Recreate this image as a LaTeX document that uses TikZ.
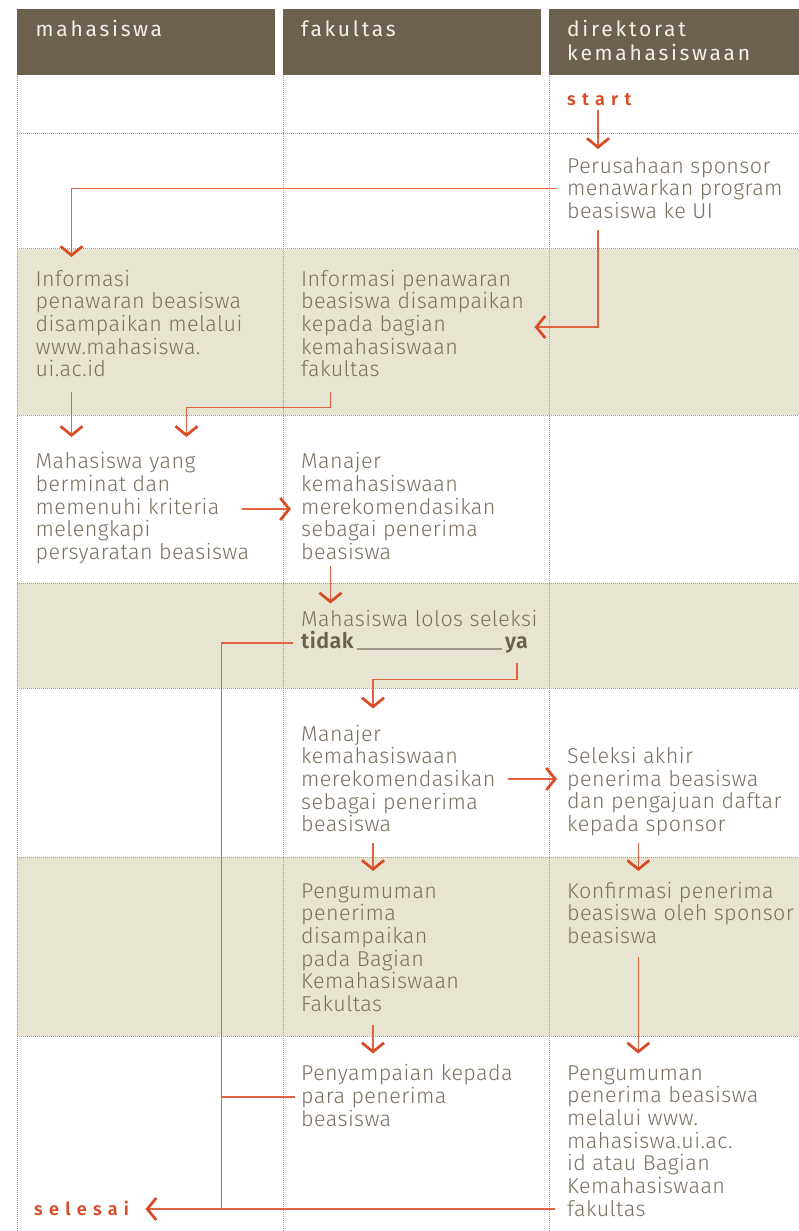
\documentclass[tikz,border=0pt]{standalone}
\usepackage{fontspec}
\setmainfont{Fira Sans}[UprightFont={* Light},BoldFont={* SemiBold},LetterSpace=2]
\newfontfamily\hdrfont{Fira Sans}[LetterSpace=13]
\newfontfamily\tagfont{Fira Sans}[UprightFont={* SemiBold},LetterSpace=35]
\usetikzlibrary{arrows.meta}
\definecolor{hdrfill}{HTML}{6C604F}
\definecolor{band}{HTML}{E8E4D2}
\definecolor{bodytxt}{HTML}{7A7061}
\definecolor{boldtxt}{HTML}{6B5F4E}
\definecolor{hdrtxt}{HTML}{F3F0EA}
\definecolor{lineor}{HTML}{DE6441}
\definecolor{tipor}{HTML}{D84B25}
\definecolor{dotc}{HTML}{9E9E9E}
\definecolor{rulec}{HTML}{A0978A}
\tikzset{
  txt/.style={anchor=base west, inner sep=0pt, align=left, text=bodytxt,
    font=\fontsize{21.5}{22.7}\selectfont},
  hdrtext/.style={anchor=base west, inner sep=0pt, align=left, text=hdrtxt,
    font=\hdrfont\fontsize{21}{23.3}\selectfont},
  tagtext/.style={anchor=base west, inner sep=0pt, text=tipor,
    font=\tagfont\fontsize{18}{20}\selectfont},
  boldtext/.style={inner sep=0pt, text=boldtxt,
    font=\bfseries\fontsize{21.5}{22.7}\selectfont},
  flow/.style={draw=lineor, line width=1.3pt,
    -{Straight Barb[length=9pt,width=22pt,line width=2.7pt,color=tipor]}},
  plain/.style={draw=lineor, line width=1.3pt},
  dotline/.style={draw=dotc, line width=0.7pt, dash pattern=on 0.9pt off 1.1pt},
}
\begin{document}
\begin{tikzpicture}[x=1pt,y=-1pt]
\useasboundingbox (0,0) rectangle (799,1231);
\fill[white] (0,0) rectangle (799,1231);
% bands
\fill[band] (17,248.5) rectangle (799,415);
\fill[band] (17,583) rectangle (799,688);
\fill[band] (17,857) rectangle (799,1036);
% dotted grid
\foreach \xx in {17.3,283,549}{\draw[dotline] (\xx,74) -- (\xx,1231);}
\foreach \yy in {133,248.5,415,583,688,857,1036}{\draw[dotline] (17,\yy) -- (799,\yy);}
% header boxes
\fill[hdrfill] (17,9) rectangle (275,74.5);
\fill[hdrfill] (283,9) rectangle (541,74.5);
\fill[hdrfill] (549,9) rectangle (799,74.5);
% (multi-line nodes are placed by the baseline of their last line)
\node[hdrtext] (hdr1) at (35.5,36.7) {mahasiswa};
\node[hdrtext] (hdr2) at (301,36.7) {fakultas};
\node[hdrtext] (hdr3) at (567,60) {direktorat\\kemahasiswaan};
% text nodes
\node[tagtext] (start) at (567,105) {start};
\node[txt] (spons) at (567,218.4) {Perusahaan sponsor\\menawarkan program\\beasiswa ke UI};
\node[txt] (info1) at (35.5,376.8) {Informasi\\penawaran beasiswa\\disampaikan melalui\\www.mahasiswa.\\ui.ac.id};
\node[txt] (info2) at (301,376.8) {Informasi penawaran\\beasiswa disampaikan\\kepada bagian\\kemahasiswaan\\fakultas};
\node[txt] (mhs) at (35.5,559.5) {Mahasiswa yang\\berminat dan\\memenuhi kriteria\\melengkapi\\persyaratan beasiswa};
\node[txt] (man1) at (301,559.5) {Manajer\\kemahasiswaan\\merekomendasikan\\sebagai penerima\\beasiswa};
\node[txt] (lolos) at (301,626) {Mahasiswa lolos seleksi};
\node[boldtext, anchor=base west] (tidak) at (301,648) {tidak};
\node[boldtext, anchor=base east] (ya) at (528,648) {ya};
\draw[draw=rulec, line width=1.4pt] ([xshift=3pt,yshift=-1pt]tidak.base east) -- ([xshift=-3pt,yshift=-1pt]ya.base west);
\node[txt] (man2) at (301,831.8) {Manajer\\kemahasiswaan\\merekomendasikan\\sebagai penerima\\beasiswa};
\node[txt] (sel) at (567,831.6) {Seleksi akhir\\penerima beasiswa\\dan pengajuan daftar\\kepada sponsor};
\node[txt] (peng) at (301,1011.5) {Pengumuman\\penerima\\disampaikan\\pada Bagian\\Kemahasiswaan\\Fakultas};
\node[txt] (konf) at (567,943.4) {Konfirmasi penerima\\beasiswa oleh sponsor\\beasiswa};
\node[txt] (peny) at (301,1126.1) {Penyampaian kepada\\para penerima\\beasiswa};
\node[txt] (pengum) at (567,1216.2) {Pengumuman\\penerima beasiswa\\melalui www.\\mahasiswa.ui.ac.\\id atau Bagian\\Kemahasiswaan\\fakultas};
\node[tagtext] (selesai) at (34,1215.7) {selesai};
% connector points
\coordinate (s1) at (598,110);   \coordinate (s2) at (598,149);
\coordinate (p1) at (557,188.5); \coordinate (p2) at (71.5,257);
\coordinate (q1) at (598,230);   \coordinate (q2) at (534.5,327);
\coordinate (i1) at (71.5,392);  \coordinate (i2) at (71.5,437);
\coordinate (j1) at (330.5,392); \coordinate (j2) at (186.5,407.3); \coordinate (j3) at (186.5,437);
\coordinate (m1) at (242,509);   \coordinate (m2) at (291,509);
\coordinate (n1) at (330.5,566); \coordinate (n2) at (330.5,603.5);
\coordinate (y1) at (517,663);   \coordinate (y2) at (517,679.5); \coordinate (y3) at (373,708.5);
\coordinate (t1) at (293,643);   \coordinate (t2) at (221.5,1209);
\coordinate (k1) at (507.5,779); \coordinate (k2) at (557,779);
\coordinate (u1) at (373,843);   \coordinate (u2) at (373,871);
\coordinate (v1) at (638.3,843); \coordinate (v2) at (638.3,871);
\coordinate (w1) at (373,1025);  \coordinate (w2) at (373,1053.5);
\coordinate (z1) at (638.3,957); \coordinate (z2) at (638.3,1053.5);
\coordinate (r1) at (294.5,1097); \coordinate (r2) at (221.5,1097);
\coordinate (e1) at (555,1209);  \coordinate (e2) at (145.5,1209);
% connectors
\draw[flow] (s1) -- (s2);
\draw[flow] (p1) -| (p2);
\draw[flow] (q1) |- (q2);
\draw[flow] (i1) -- (i2);
\draw[flow] (j1) |- (j2) -- (j3);
\draw[flow] (m1) -- (m2);
\draw[flow] (n1) -- (n2);
\draw[flow] (y1) -- (y2) -| (y3);
\draw[plain] (t1) -| (t2);
\draw[flow] (k1) -- (k2);
\draw[flow] (u1) -- (u2);
\draw[flow] (v1) -- (v2);
\draw[flow] (w1) -- (w2);
\draw[flow] (z1) -- (z2);
\draw[plain] (r1) -- (r2);
\draw[flow] (e1) -- (e2);
\end{tikzpicture}
\end{document}
